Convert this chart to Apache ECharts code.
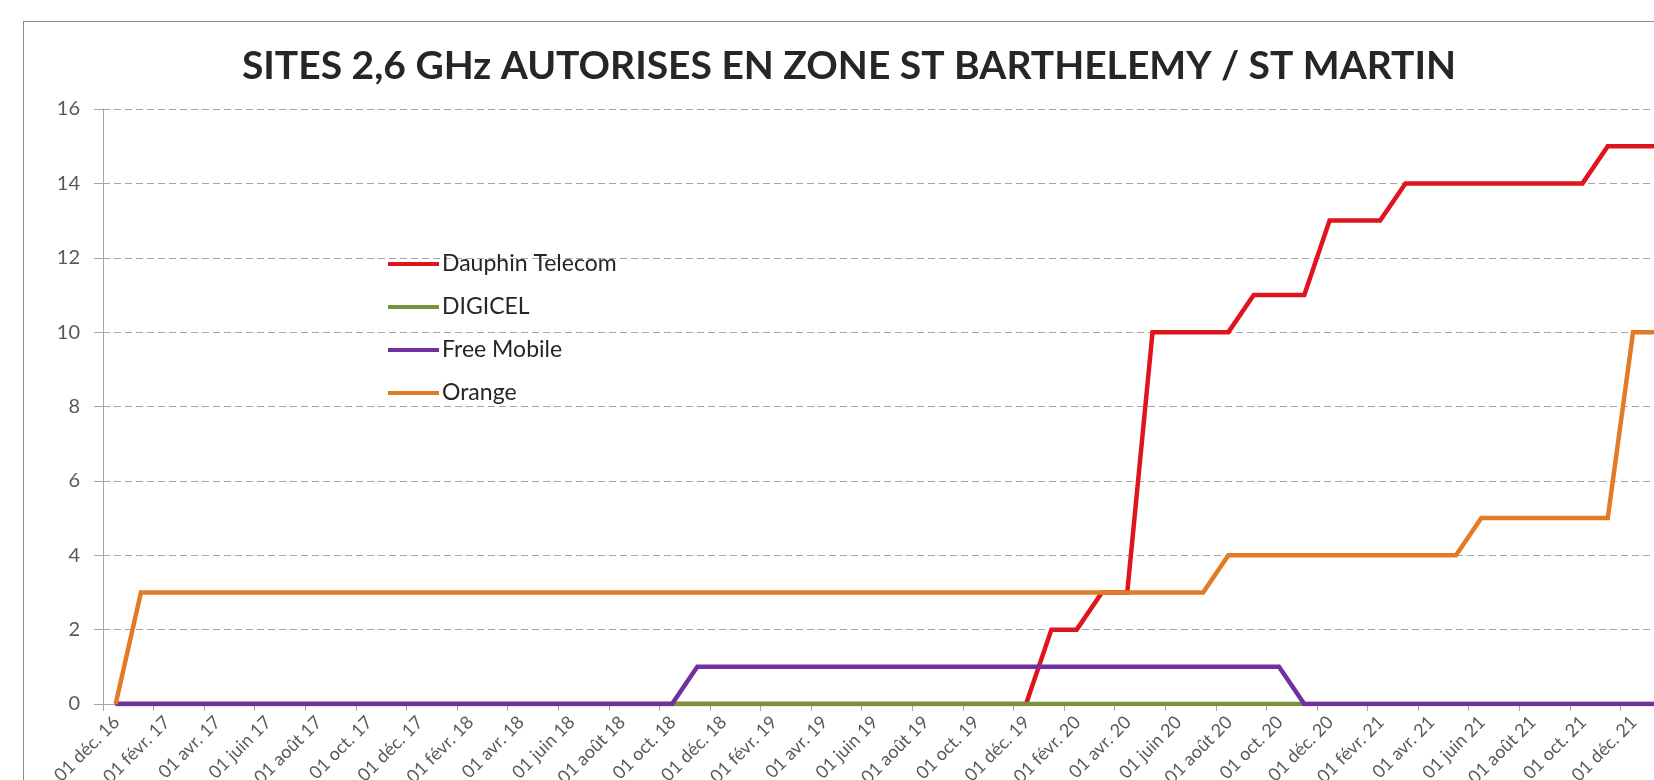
<!DOCTYPE html>
<html>
<head>
<meta charset="utf-8">
<script src="https://cdn.jsdelivr.net/npm/echarts@6/dist/echarts.min.js"></script>
<style>
  html, body { margin: 0; padding: 0; background: #fff; overflow: hidden; width: 1654px; height: 780px; }
  #chart { position: absolute; left: 23px; top: 21px; width: 1650px; height: 820px; border: 1px solid #8c8c8c; background: #fff; }
</style>
</head>
<body>
<div id="chart"></div>
<script>
// one label per month, from 01 déc. 16 to 01 févr. 22 (only even ones shown on the axis)
const months = [
  '01 déc. 16',
  '01 janv. 17', '01 févr. 17', '01 mars 17', '01 avr. 17', '01 mai 17', '01 juin 17',
  '01 juil. 17', '01 août 17', '01 sept. 17', '01 oct. 17', '01 nov. 17', '01 déc. 17',
  '01 janv. 18', '01 févr. 18', '01 mars 18', '01 avr. 18', '01 mai 18', '01 juin 18',
  '01 juil. 18', '01 août 18', '01 sept. 18', '01 oct. 18', '01 nov. 18', '01 déc. 18',
  '01 janv. 19', '01 févr. 19', '01 mars 19', '01 avr. 19', '01 mai 19', '01 juin 19',
  '01 juil. 19', '01 août 19', '01 sept. 19', '01 oct. 19', '01 nov. 19', '01 déc. 19',
  '01 janv. 20', '01 févr. 20', '01 mars 20', '01 avr. 20', '01 mai 20', '01 juin 20',
  '01 juil. 20', '01 août 20', '01 sept. 20', '01 oct. 20', '01 nov. 20', '01 déc. 20',
  '01 janv. 21', '01 févr. 21', '01 mars 21', '01 avr. 21', '01 mai 21', '01 juin 21',
  '01 juil. 21', '01 août 21', '01 sept. 21', '01 oct. 21', '01 nov. 21', '01 déc. 21',
  '01 janv. 22', '01 févr. 22'
]

// monthly counts (one value per month above)
const dauphin = [
  0,
  0, 0, 0, 0, 0, 0, 0, 0, 0, 0, 0, 0,
  0, 0, 0, 0, 0, 0, 0, 0, 0, 0, 0, 0,
  0, 0, 0, 0, 0, 0, 0, 0, 0, 0, 0, 0,
  2, 2, 3, 3, 10, 10, 10, 10, 11, 11, 11, 13,
  13, 13, 14, 14, 14, 14, 14, 14, 14, 14, 15, 15,
  15, 15
]
const digicel = [
  0,
  0, 0, 0, 0, 0, 0, 0, 0, 0, 0, 0, 0,
  0, 0, 0, 0, 0, 0, 0, 0, 0, 0, 0, 0,
  0, 0, 0, 0, 0, 0, 0, 0, 0, 0, 0, 0,
  0, 0, 0, 0, 0, 0, 0, 0, 0, 0, 0, 0,
  0, 0, 0, 0, 0, 0, 0, 0, 0, 0, 0, 0,
  0, 0
]
const freeMobile = [
  0,
  0, 0, 0, 0, 0, 0, 0, 0, 0, 0, 0, 0,
  0, 0, 0, 0, 0, 0, 0, 0, 0, 0, 1, 1,
  1, 1, 1, 1, 1, 1, 1, 1, 1, 1, 1, 1,
  1, 1, 1, 1, 1, 1, 1, 1, 1, 1, 0, 0,
  0, 0, 0, 0, 0, 0, 0, 0, 0, 0, 0, 0,
  0, 0
]
const orange = [
  0,
  3, 3, 3, 3, 3, 3, 3, 3, 3, 3, 3, 3,
  3, 3, 3, 3, 3, 3, 3, 3, 3, 3, 3, 3,
  3, 3, 3, 3, 3, 3, 3, 3, 3, 3, 3, 3,
  3, 3, 3, 3, 3, 3, 3, 4, 4, 4, 4, 4,
  4, 4, 4, 4, 4, 5, 5, 5, 5, 5, 5, 10,
  10, 10
]

const seriesNames = ['Dauphin Telecom', 'DIGICEL', 'Free Mobile', 'Orange']
const seriesColors = ['#e0141c', '#77933c', '#7030a0', '#e27b26']
const seriesValues = [dauphin, digicel, freeMobile, orange]

// points are dated mid-month
const DAY_OFFSET = 0.5

const chart = echarts.init(document.getElementById('chart'))

const option = {
  animation: false,
  title: {
    text: 'SITES 2,6 GHz AUTORISES EN ZONE ST BARTHELEMY / ST MARTIN',
    left: 'center',
    top: 20,
    textStyle: { fontFamily: 'Lato', fontWeight: 'bold', fontSize: 39, color: '#262626' }
  },
  legend: {
    orient: 'vertical',
    left: 364,
    top: 229,
    padding: 0,
    icon: 'rect',
    itemWidth: 51,
    itemHeight: 4,
    itemGap: 17,
    data: seriesNames,
    textStyle: { fontFamily: 'Lato', fontSize: 23, color: '#262626', lineHeight: 26, padding: [0, 0, 0, -2] }
  },
  grid: { left: 79, right: 3, top: 87, bottom: 138, containLabel: false, outerBoundsMode: 'none' },
  xAxis: {
    type: 'value',
    min: 0,
    max: 62,
    interval: 2,
    axisLine: { show: true, lineStyle: { color: '#a6a6a6', width: 1 } },
    axisTick: { show: true, length: 7, lineStyle: { color: '#a6a6a6' } },
    splitLine: { show: false },
    axisLabel: {
      rotate: 45,
      margin: 16,
      verticalAlign: 'top',
      padding: [0, -10, 0, 0],
      fontFamily: 'Lato',
      fontSize: 18,
      color: '#595959',
      showMaxLabel: false,
      formatter: v => months[v] || ''
    }
  },
  yAxis: {
    type: 'value',
    min: 0,
    max: 16,
    interval: 2,
    axisLine: { show: true, lineStyle: { color: '#a6a6a6', width: 1 } },
    axisTick: { show: true, length: 9, lineStyle: { color: '#a6a6a6' } },
    axisLabel: { margin: 23, fontFamily: 'Lato', fontSize: 20, color: '#595959' },
    splitLine: { show: true, lineStyle: { color: '#a6a6a6', type: [7, 4], width: 1 } }
  },
  series: seriesNames.map((name, k) => ({
    name: name,
    type: 'line',
    symbol: 'none',
    color: seriesColors[k],
    lineStyle: { width: 4.5, color: seriesColors[k], join: 'miter' },
    data: seriesValues[k].map((v, i) => [i + DAY_OFFSET, v])
  }))
}

chart.setOption(option)
</script>
</body>
</html>
